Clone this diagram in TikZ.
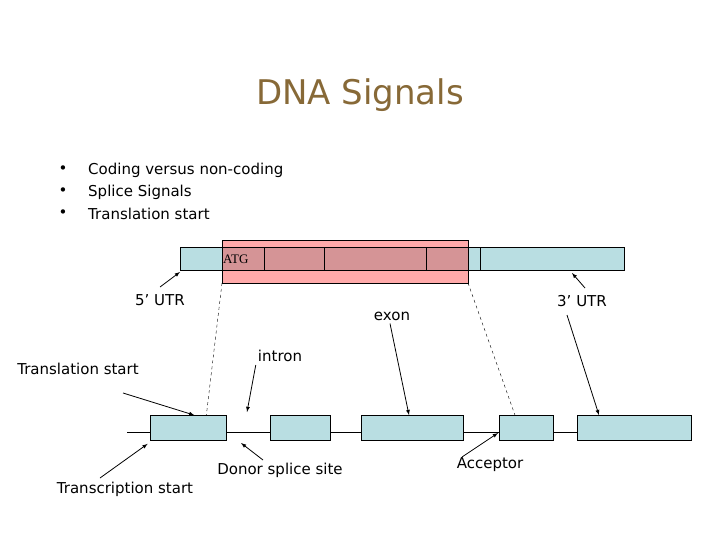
\documentclass[tikz,border=0pt]{standalone}
\usepackage{fontspec}
\setmainfont{DejaVu Sans}
\newfontfamily\serifatg{Liberation Serif}
\definecolor{exfill}{RGB}{185,222,226}
\definecolor{redbg}{RGB}{255,170,170}
\definecolor{redov}{RGB}{213,148,150}
\definecolor{titlec}{RGB}{135,105,55}
\begin{document}
\begin{tikzpicture}[x=1pt,y=-1pt,
  ex/.style={draw=black,fill=exfill,line width=0.7pt},
  arr/.style={-latex,line width=0.8pt},
  dsh/.style={dashed,line width=0.4pt},
  lab/.style={font=\fontsize{15}{17}\selectfont,inner sep=0pt}]
\useasboundingbox (0,0) rectangle (720,540);
\node[font=\fontsize{34}{38}\selectfont,text=titlec] (title) at (360,95) {DNA Signals};
\foreach \i/\t in {0/Coding versus non-coding,1/Splice Signals,2/Translation start}{
  \node[lab] (b\i) at (63,170+22*\i) {\textbullet};
  \node[lab,anchor=west] (t\i) at (88,170+22*\i) {\t};
}
% top bar
\fill[redbg] (222,240) rectangle (468,283);
\draw[ex] (180,247) rectangle (624,270);
\fill[redov] (222,247) rectangle (468,270);
\draw[line width=0.6pt] (180,247) rectangle (624,270);
\foreach \x in {264,324,426,480} \draw[line width=0.6pt] (\x,247) -- (\x,270);
\draw[line width=0.6pt] (222,240) rectangle (468,283);
\node[inner sep=0pt,font=\serifatg\fontsize{13}{15}\selectfont,anchor=west] (atg) at (223,259) {ATG};
\coordinate (rl) at (222,283); \coordinate (rr) at (468,283);
% gene line
\draw[line width=0.6pt] (127,432) -- (691,432);
\node[ex,minimum width=76,minimum height=25,inner sep=0pt] (e1) at (188,428) {};
\node[ex,minimum width=60,minimum height=25,inner sep=0pt] (e2) at (300,428) {};
\node[ex,minimum width=102,minimum height=25,inner sep=0pt] (e3) at (412,428) {};
\node[ex,minimum width=54,minimum height=25,inner sep=0pt] (e4) at (526,428) {};
\node[ex,minimum width=114,minimum height=25,inner sep=0pt] (e5) at (634,428) {};
\draw[dsh] (rl) -- ([xshift=-20pt]e1.north east);
\draw[dsh] (rr) -- ([xshift=-11pt]e4.north);
% labels
\node[lab] (utr5) at (160,300) {5' UTR};
\node[lab] (utr3) at (582,301) {3' UTR};
\node[lab] (exon) at (392,316) {exon};
\node[lab] (intron) at (280,356) {intron};
\node[lab] (tls) at (78,369) {Translation start};
\node[lab] (trs) at (125,489) {Transcription start};
\node[lab] (donor) at (280,470) {Donor splice site};
\node[lab] (acc) at (490,465) {Acceptor};
\coordinate (u5s) at (160,287);
\coordinate (u5t) at (180,272);
\coordinate (u3s) at (585,288);
\coordinate (u3t) at (572,273);
\coordinate (u3d) at (567,315);
\coordinate (tl) at (123,393);
\coordinate (tr) at (100,478);
\coordinate (dn) at (263,460);
\coordinate (ac) at (462,457);
\draw[arr] (u5s) -- (u5t);
\draw[arr] (u3s) -- (u3t);
\draw[arr] (u3d) -- ([xshift=-35pt]e5.north);
\draw[arr] (exon.south) ++(-2,3) -- ([xshift=-3pt]e3.north);
\draw[arr] (intron.south west) ++(-2,3) -- (247,412);
\draw[arr] (tl) -- ([xshift=-32pt]e1.north east);
\draw[arr] (tr) -- ([shift={(-2pt,-3pt)}]e1.south west);
\draw[arr] (dn) -- (241,443);
\draw[arr] (ac) -- (498,433);
\end{tikzpicture}
\end{document}
